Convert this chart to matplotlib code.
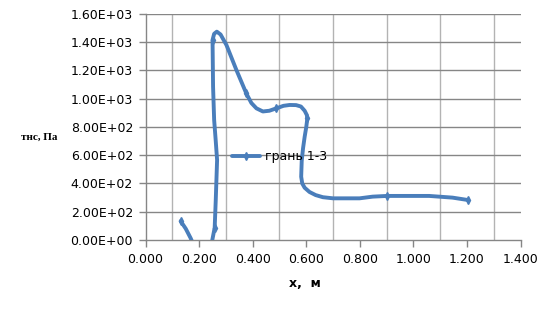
import matplotlib
matplotlib.use('Agg')
import matplotlib.pyplot as plt

# traced curve "грань 1-3" (x in m, tau in Pa)
x_vals = [0.131, 0.150, 0.168, 0.185, 0.215, 0.245, 0.258, 0.262, 0.267, 0.262,
          0.256, 0.252, 0.250, 0.256, 0.266, 0.280, 0.302, 0.339, 0.376, 0.395,
          0.414, 0.438, 0.462, 0.488, 0.515, 0.538, 0.562, 0.580, 0.594, 0.602,
          0.604, 0.600, 0.594, 0.588, 0.583, 0.581, 0.585, 0.594, 0.612, 0.635,
          0.662, 0.700, 0.799, 0.848, 0.902, 1.059, 1.146, 1.204]
y_vals = [134, 80, 14, -60, -120, -40, 87, 283, 566, 700,
          850, 1085, 1416, 1460, 1475, 1455, 1380, 1204, 1038, 970,
          932, 910, 915, 932, 950, 956, 955, 945, 915, 885,
          861, 800, 731, 650, 560, 448, 400, 370, 340, 318,
          303, 295, 295, 307, 312, 312, 300, 283]
marker_idx = [0, 6, 12, 18, 23, 30, 44, 47]
series_label = 'грань 1-3'

x_ticks = [0.0, 0.2, 0.4, 0.6, 0.8, 1.0, 1.2, 1.4]
x_grid = [0.1, 0.3, 0.5, 0.7, 0.9, 1.1, 1.3]
y_ticks = [0, 200, 400, 600, 800, 1000, 1200, 1400, 1600]

fig = plt.figure(figsize=(5.5, 3.09), dpi=100)
ax = fig.add_axes([0.2647, 0.2233, 0.6817, 0.7314])

for g in x_grid:
    ax.axvline(g, color='#b3b3b3', lw=1, zorder=0)
for t in y_ticks[1:]:
    ax.axhline(t, color='#868686', lw=1, zorder=0)

ax.plot(x_vals, y_vals, color='#4a7ebb', lw=2.8, marker='d', markersize=4,
        markevery=marker_idx, label=series_label, solid_joinstyle='round',
        solid_capstyle='round', zorder=3)

ax.set_xlim(0, 1.4)
ax.set_ylim(0, 1600)
ax.set_xticks(x_ticks)
ax.set_xticklabels(['{:.3f}'.format(v) for v in x_ticks])
ax.set_yticks(y_ticks)
ax.set_yticklabels(['{:.2E}'.format(v) for v in y_ticks])
ax.tick_params(direction='out', length=5, width=1, color='#868686',
               labelsize=9, labelcolor='#000000', pad=4)

for s in ['top', 'right']:
    ax.spines[s].set_visible(False)
for s in ['left', 'bottom']:
    ax.spines[s].set_color('#868686')
    ax.spines[s].set_linewidth(1)

leg = ax.legend(loc='center left', bbox_to_anchor=(0.215, 0.37), frameon=False,
                fontsize=9, handlelength=2.2, handletextpad=0.4, borderpad=0)

fig.text(0.072, 0.557, 'тнс, Па', family='Liberation Serif', weight='bold',
         fontsize=8, ha='center', va='center')
fig.text(0.555, 0.084, 'x,  м', weight='bold', fontsize=9, ha='center', va='center')

fig.savefig('out.png', dpi=100)
